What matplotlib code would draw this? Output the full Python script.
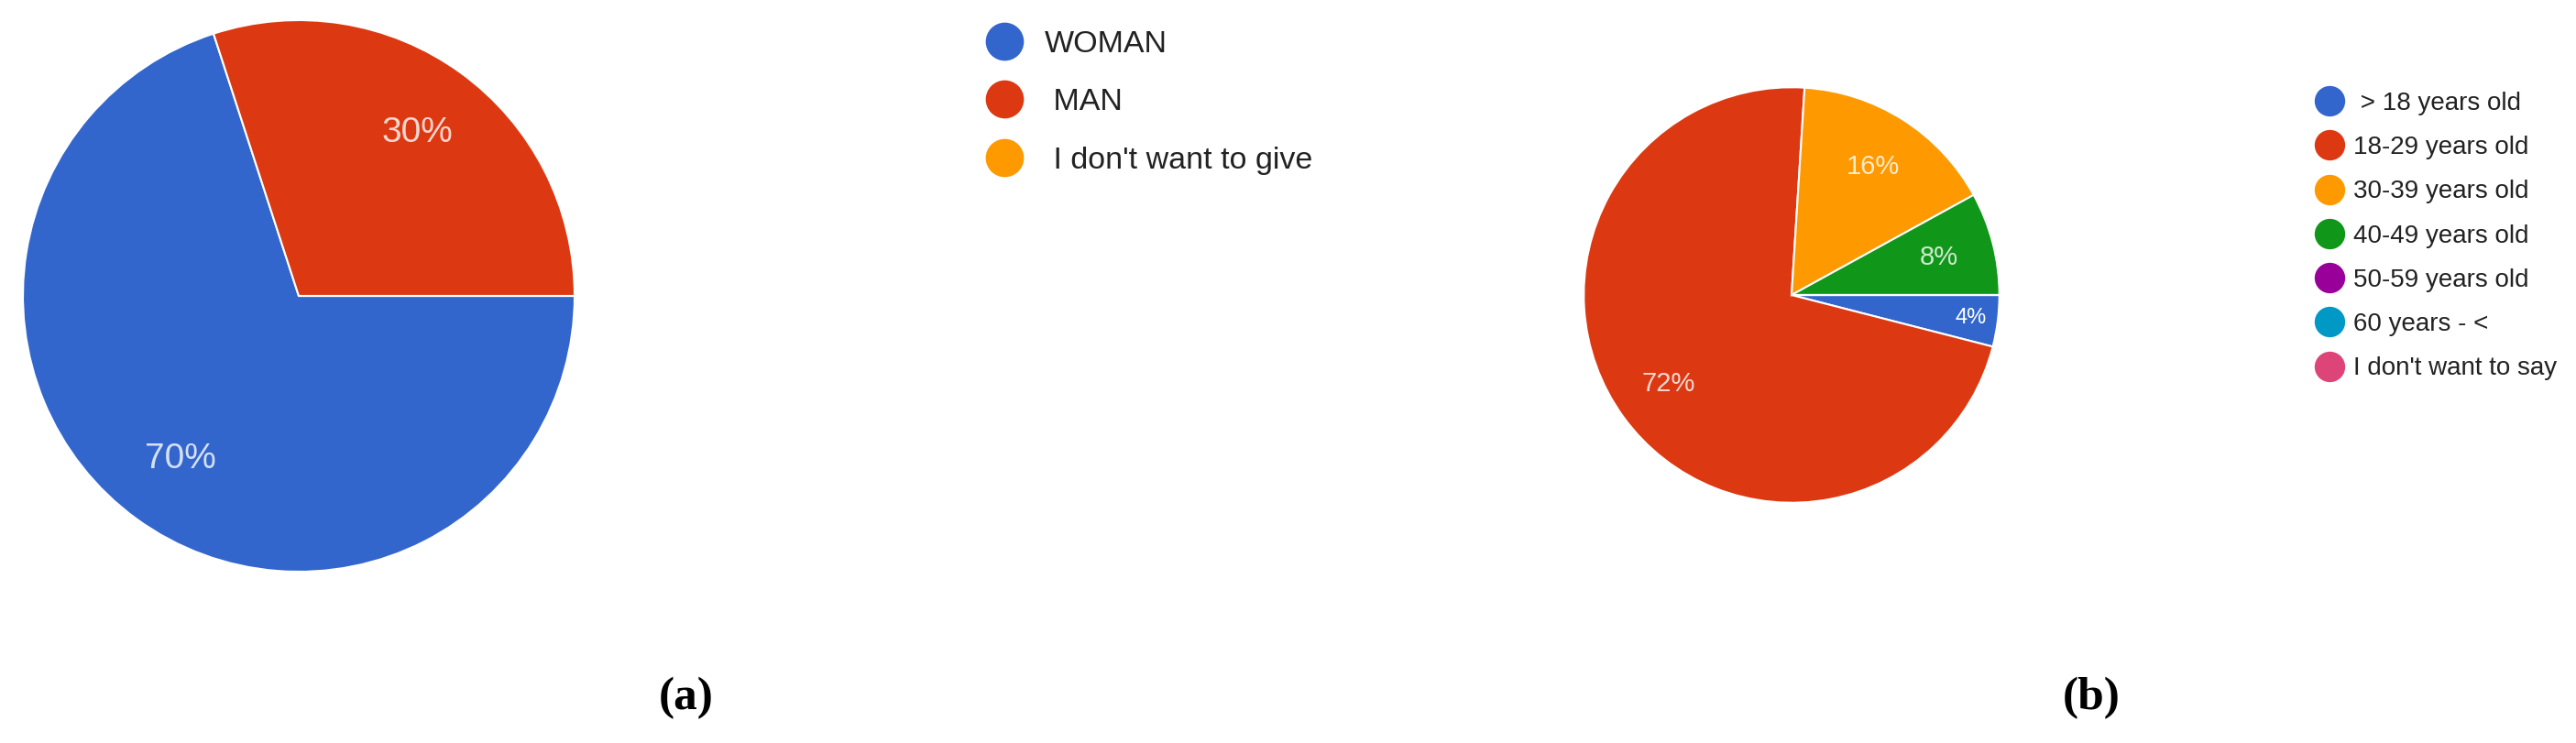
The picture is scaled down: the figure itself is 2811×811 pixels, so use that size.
import matplotlib.pyplot as plt
from matplotlib.lines import Line2D
import numpy as np

# data
gender_labels = ['WOMAN', ' MAN', ' I don\'t want to give']
gender_values = [70, 30, 0]
age_labels = [' > 18 years old', '18-29 years old', '30-39 years old', '40-49 years old',
              '50-59 years old', '60 years - <', 'I don\'t want to say']
age_values = [4, 72, 16, 8, 0, 0, 0]

google = ['#3366cc', '#dc3912', '#ff9900', '#109618', '#990099', '#0099c6', '#dd4477']

W, H = 2811, 811
fig = plt.figure(figsize=(W / 100, H / 100), dpi=100)


def pie_axes(cx, cy, r):
    return fig.add_axes([(cx - r) / W, (H - cy - r) / H, 2 * r / W, 2 * r / H])


def draw_pie(ax, values, colors, fsize, small_dist):
    total = sum(values)
    wedges, _, autotexts = ax.pie(
        values, colors=colors, startangle=0, counterclock=False,
        autopct=lambda p: f'{p:.0f}%' if p > 0 else '',
        pctdistance=0.73, radius=1,
        wedgeprops=dict(edgecolor='white', linewidth=1.5),
        textprops=dict(color='white', fontsize=fsize, family='Liberation Sans', alpha=0.8))
    # small slices get their label pushed outward, like google charts
    for w, t, v in zip(wedges, autotexts, values):
        if 0 < v / total < 0.06:
            ang = np.deg2rad((w.theta1 + w.theta2) / 2)
            t.set_position((small_dist * np.cos(ang), small_dist * np.sin(ang)))
            t.set_fontsize(fsize - 4)
            t.set_alpha(1)
    ax.set_xlim(-1.01, 1.01)
    ax.set_ylim(-1.01, 1.01)
    ax.set_aspect('equal')
    ax.axis('off')
    return wedges


ax1 = pie_axes(326, 323, 304)
draw_pie(ax1, gender_values, google[:3], 28, 0.86)

ax2 = pie_axes(1955, 322, 229)
draw_pie(ax2, age_values, google, 21, 0.87)

# legends
h1 = [Line2D([], [], marker='o', linestyle='none', markersize=30,
             markerfacecolor=c, markeredgecolor='none') for c in google[:3]]
fig.legend(h1, gender_labels, loc='upper left', bbox_to_anchor=(1074 / W, 1 - 33 / H),
           frameon=False, handlelength=1.32, handletextpad=0.62,
           labelspacing=0.95, borderpad=0, borderaxespad=0,
           prop=dict(family='Liberation Sans', size=24.5), labelcolor='#222222')

h2 = [Line2D([], [], marker='o', linestyle='none', markersize=24,
             markerfacecolor=c, markeredgecolor='none') for c in google]
fig.legend(h2, age_labels, loc='upper left', bbox_to_anchor=(2526 / W, 1 - 100 / H),
           frameon=False, handlelength=1.15, handletextpad=0.36,
           labelspacing=0.8, borderpad=0, borderaxespad=0,
           prop=dict(family='Liberation Sans', size=20), labelcolor='#222222')

# captions
fig.text(749 / W, 1 - 762 / H, '(a)', ha='center', va='center', fontsize=37,
         family='Liberation Serif', fontweight='bold')
fig.text(2282 / W, 1 - 762 / H, '(b)', ha='center', va='center', fontsize=37,
         family='Liberation Serif', fontweight='bold')

fig.savefig('out.png', dpi=100)
